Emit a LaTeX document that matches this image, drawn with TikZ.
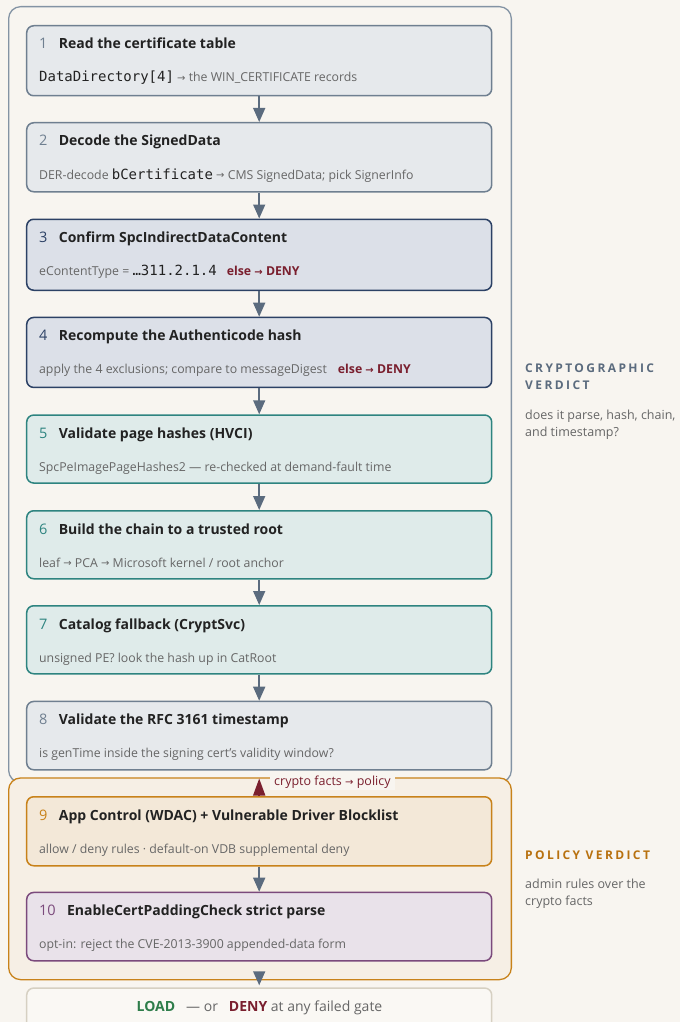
\documentclass[tikz,border=0pt]{standalone}
\usepackage{fontspec}
\setmainfont{Open Sans}
\setsansfont{Open Sans}
\setmonofont{DejaVu Sans Mono}
\newfontfamily\arrowfont{DejaVu Sans}
\usetikzlibrary{arrows.meta}

\definecolor{paper}{HTML}{F8F5F0}
\definecolor{slate}{HTML}{5B6B7E}
\definecolor{groupline}{HTML}{8393A4}
\definecolor{neutralfill}{HTML}{E6E9EC}
\definecolor{neutralline}{HTML}{6F7F90}
\definecolor{navyfill}{HTML}{DCE0E8}
\definecolor{navyline}{HTML}{2C4165}
\definecolor{tealfill}{HTML}{DFEBEA}
\definecolor{tealline}{HTML}{2E8480}
\definecolor{ambfill}{HTML}{F3E8D8}
\definecolor{ambline}{HTML}{C8821A}
\definecolor{amblabel}{HTML}{B8710F}
\definecolor{plumfill}{HTML}{E9E2EA}
\definecolor{plumline}{HTML}{7B4A7C}
\definecolor{denyred}{HTML}{7A1F2E}
\definecolor{loadgreen}{HTML}{2E7D4A}
\definecolor{ink}{HTML}{222222}
\definecolor{muted}{HTML}{666666}
\definecolor{policyfill}{HTML}{F6EFE5}
\definecolor{finalline}{HTML}{D6D0C2}
\definecolor{finalfill}{HTML}{FAF8F4}

\newcommand\ra{{\arrowfont\fontsize{10}{11}\selectfont\raisebox{0.2pt}{→}}}
\newcommand\code[1]{{\ttfamily\fontsize{14}{15}\selectfont\color{ink}#1}}
\newcommand\orDeny{{\color{denyred}\bfseries else \ra{} DENY}}

\tikzset{
  stepbox/.style={rectangle, rounded corners=7pt, line width=1.5pt,
    minimum width=465pt, inner sep=0pt, anchor=north},
  groupbox/.style={rectangle, rounded corners=12pt, line width=1.3pt,
    inner sep=0pt, anchor=north west, minimum width=502.7pt},
  numtext/.style={inner sep=0pt, anchor=base west, font=\fontsize{14.5}{16}\selectfont},
  titletext/.style={inner sep=0pt, anchor=base west, text=ink,
    font=\bfseries\fontsize{14}{16}\selectfont},
  subtext/.style={inner sep=0pt, anchor=base west, text=muted,
    font=\fontsize{12.3}{13}\selectfont},
  flowarrow/.style={draw=slate, line width=1.5pt,
    -{Triangle[length=14pt,width=12pt]}},
  critarrow/.style={draw=denyred, line width=1.5pt,
    -{Triangle[length=17pt,width=12pt]}},
  sidehead/.style={inner sep=0pt, anchor=base west,
    font=\bfseries\fontsize{12}{14}\selectfont\addfontfeatures{LetterSpace=20}},
  sidenote/.style={inner sep=0pt, anchor=base west, text=muted,
    font=\fontsize{12.5}{14}\selectfont},
}

% #1 name, #2 top, #3 height, #4 fill, #5 line, #6 number, #7 title, #8 detail
\newcommand\flowstep[8]{%
  \node[stepbox, fill=#4, draw=#5, minimum height=#3pt] (#1) at (259.2,#2) {};
  \node[numtext, text=#5] (#1n) at ([xshift=13pt,yshift=-24pt]#1.north west) {#6};
  \node[titletext] (#1t) at ([xshift=11pt]#1n.base east) {#7};
  \node[subtext] (#1s) at ([xshift=13pt,yshift=-57pt]#1.north west) {#8};
}

\begin{document}
\begin{tikzpicture}[x=1pt,y=-1pt]
  \useasboundingbox (0,0) rectangle (680,1022);
  \clip (0,0) rectangle (680,1022);
  \fill[paper] (0,0) rectangle (680,1022);

  % verdict groups
  \node[groupbox, draw=groupline, fill=paper, minimum height=775.7pt] (crypto) at (8,6) {};
  \node[groupbox, draw=ambline, fill=policyfill, minimum height=201.7pt] (policy) at (8,777.3) {};

  % gates
  \flowstep{b1}{25}{70}{neutralfill}{neutralline}{1}{Read the certificate table}
    {\code{DataDirectory[4]} \ra{} the WIN\_CERTIFICATE records}
  \flowstep{b2}{122}{69}{neutralfill}{neutralline}{2}{Decode the SignedData}
    {DER-decode \code{bCertificate} \ra{} CMS SignedData; pick SignerInfo}
  \flowstep{b3}{218.5}{71}{navyfill}{navyline}{3}{Confirm SpcIndirectDataContent}
    {eContentType = \code{…311.2.1.4}\hspace{10pt}\orDeny}
  \flowstep{b4}{316.7}{70}{navyfill}{navyline}{4}{Recompute the Authenticode hash}
    {apply the 4 exclusions; compare to messageDigest\hspace{11pt}\orDeny}
  \flowstep{b5}{414.3}{68}{tealfill}{tealline}{5}{Validate page hashes (HVCI)}
    {SpcPeImagePageHashes2 — re-checked at demand-fault time}
  \flowstep{b6}{510}{68}{tealfill}{tealline}{6}{Build the chain to a trusted root}
    {leaf \ra{} PCA \ra{} Microsoft kernel / root anchor}
  \flowstep{b7}{605}{68}{tealfill}{tealline}{7}{Catalog fallback (CryptSvc)}
    {unsigned PE? look the hash up in CatRoot}
  \flowstep{b8}{700.7}{68.3}{neutralfill}{neutralline}{8}{Validate the RFC 3161 timestamp}
    {is genTime inside the signing cert’s validity window?}
  \flowstep{b9}{796}{69}{ambfill}{ambline}{9}{App Control (WDAC) + Vulnerable Driver Blocklist}
    {allow / deny rules · default-on VDB supplemental deny}
  \flowstep{b10}{891.7}{68.3}{plumfill}{plumline}{10}{EnableCertPaddingCheck strict parse}
    {opt-in: reject the CVE-2013-3900 appended-data form}

  % outcome
  \node[stepbox, draw=finalline, fill=finalfill, minimum height=50pt] (final) at (259.2,987.3) {};
  \node[inner sep=0pt, anchor=base, font=\fontsize{14}{16}\selectfont] (finalt) at (259.5,1011.7)
    {{\color{loadgreen}\bfseries LOAD}\hspace{11pt}{\color{muted}— or}\hspace{11pt}{\color{denyred}\bfseries DENY} {\color{muted}at any failed gate}};

  % connectors
  \draw[flowarrow] (b1) -- (b2);
  \draw[flowarrow] (b2) -- (b3);
  \draw[flowarrow] (b3) -- (b4);
  \draw[flowarrow] (b4) -- (b5);
  \draw[flowarrow] (b5) -- (b6);
  \draw[flowarrow] (b6) -- (b7);
  \draw[flowarrow] (b7) -- (b8);
  \draw[flowarrow] (b9) -- (b10);
  \draw[critarrow, shorten >=8pt] (b9) -- (b8);
  \draw[flowarrow, shorten <=10pt, shorten >=2pt] (b10) -- (final);
  \node[inner sep=0pt, fill=paper, minimum height=14pt, text=denyred, anchor=west,
    font=\fontsize{12.5}{14}\selectfont, inner xsep=4pt] (handoff) at (270,782.5)
    {crypto facts \ra{} policy};

  % side notes
  \node[sidehead, text=slate] (ch1) at (525,372.7) {CRYPTOGRAPHIC};
  \node[sidehead, text=slate] (ch2) at (525,389.3) {VERDICT};
  \node[sidenote] (cn1) at (525,419) {does it parse, hash, chain,};
  \node[sidenote] (cn2) at (525,436.5) {and timestamp?};
  \node[sidehead, text=amblabel] (ph1) at (525,859.3) {POLICY VERDICT};
  \node[sidenote] (pn1) at (525,888) {admin rules over the};
  \node[sidenote] (pn2) at (525,905) {crypto facts};
\end{tikzpicture}
\end{document}
